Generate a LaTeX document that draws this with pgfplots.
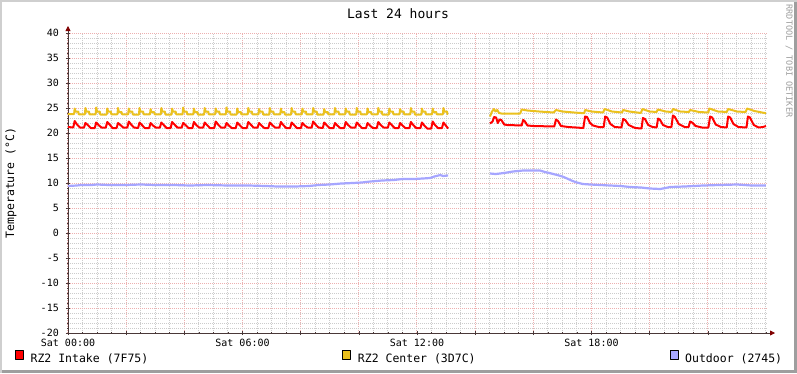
\documentclass[border=0pt]{standalone}
\usepackage{fontspec}
\setmainfont{DejaVu Sans Mono}
\usepackage{pgfplots}
\pgfplotsset{compat=1.18}
\usetikzlibrary{arrows.meta}
\definecolor{cred}{HTML}{FF0000}
\definecolor{cyellow}{HTML}{EBC11E}
\definecolor{cblue}{HTML}{A6A6FF}
\definecolor{mgrid}{HTML}{EDB0B0}
\definecolor{mingrid}{HTML}{CCCCCC}
\definecolor{axisc}{HTML}{4A3838}
\definecolor{arrowc}{HTML}{800000}
\definecolor{shadea}{HTML}{CFCFCF}
\definecolor{shadeb}{HTML}{9E9E9E}
\begin{document}
\begin{tikzpicture}
\fill[white] (-68pt,-40pt) rectangle (729pt,333pt);
\fill[shadea] (-68pt,-40pt) rectangle (-66pt,333pt);
\fill[shadea] (-68pt,331pt) rectangle (729pt,333pt);
\fill[shadeb] (726pt,-40pt) rectangle (729pt,331pt);
\fill[shadeb] (-66pt,-40pt) rectangle (729pt,-37pt);
\begin{axis}[
  scale only axis,
  width=700pt, height=300pt,
  xmin=0, xmax=24.07, ymin=-20, ymax=40,
  axis lines=left,
  axis line style={draw=axisc, line width=0.8pt},
  x axis line style={-{Triangle[length=5pt,width=5pt,color=arrowc]}, shorten >=-7pt},
  y axis line style={-{Triangle[length=5pt,width=5pt,color=arrowc]}, shorten >=-7pt},
  xtick={0,2,...,22},
  xticklabels={Sat 00:00,,,Sat 06:00,,,Sat 12:00,,,Sat 18:00,,},
  minor xtick={0.5,1,1.5,2.5,3,3.5,4.5,5,5.5,6.5,7,7.5,8.5,9,9.5,10.5,11,11.5,12.5,13,13.5,14.5,15,15.5,16.5,17,17.5,18.5,19,19.5,20.5,21,21.5,22.5,23,23.5,24},
  ytick={-20,-15,...,40},
  yticklabels={-20,-15,-10,-5,0,5,10,15,20,25,30,35,40},
  minor y tick num=4,
  grid=both,
  major grid style={draw=mgrid, line width=1pt, dash pattern=on 1pt off 1pt},
  minor grid style={draw=mingrid, line width=1pt, dash pattern=on 1pt off 1pt},
  major tick length=4pt, minor tick length=1.5pt, tick align=center,
  tick style={draw=axisc, line width=0.6pt},
  tick label style={font=\fontsize{10}{12}\selectfont},
  /pgf/number format/assume math mode=true,
  xticklabel style={inner sep=0pt, yshift=-4pt},
  yticklabel style={inner sep=0pt, xshift=-7pt},
  title={Last 24 hours},
  title style={at={(0.4714,1.0433)}, anchor=center, inner sep=0pt, font=\fontsize{13}{15}\selectfont},
  ylabel={Temperature (°C)},
  every axis y label/.style={at={(-0.0814,0.5)}, rotate=90, anchor=center, inner sep=0pt, font=\fontsize{11.5}{13}\selectfont},
  unbounded coords=jump,
  legend columns=3,
  legend style={at={(-0.0757,-0.08)}, anchor=west, draw=none, fill=none, inner sep=0pt, outer sep=0pt,
    font=\fontsize{11.5}{13}\selectfont, nodes={inner sep=0pt},
    /tikz/every odd column/.append style={column sep=7pt},
    /tikz/every even column/.append style={column sep=194pt}},
  legend image code/.code={\draw[#1, solid, draw=black, line width=0.6pt, fill] (0pt,0pt) rectangle (8pt,9pt);},
]
\addplot[cred, line width=2pt, line join=round] coordinates {
(0.00,21.2)
(0.18,21.1)(0.23,22.4)(0.31,21.7)(0.41,21.1)
(0.55,21.1)(0.60,22.0)(0.68,21.6)(0.78,21.0)
(0.92,21.0)(0.97,22.1)(1.05,21.6)(1.15,21.1)
(1.30,21.1)(1.35,22.2)(1.43,21.7)(1.53,21.0)
(1.67,21.0)(1.72,22.0)(1.80,21.6)(1.90,21.1)
(2.04,21.1)(2.09,22.3)(2.17,21.7)(2.27,21.1)
(2.41,21.0)(2.46,22.1)(2.54,21.6)(2.64,21.0)
(2.79,21.0)(2.84,22.0)(2.92,21.5)(3.02,21.1)
(3.16,21.1)(3.21,22.1)(3.29,21.6)(3.39,21.0)
(3.53,21.0)(3.58,22.2)(3.66,21.7)(3.76,21.1)
(3.91,21.1)(3.96,22.0)(4.04,21.6)(4.14,21.0)
(4.28,21.0)(4.33,22.2)(4.41,21.6)(4.51,21.1)
(4.65,21.1)(4.70,22.1)(4.78,21.6)(4.88,21.0)
(5.03,21.0)(5.08,22.3)(5.16,21.7)(5.26,21.1)
(5.40,21.1)(5.45,22.0)(5.53,21.5)(5.63,21.0)
(5.77,21.0)(5.82,22.1)(5.90,21.6)(6.00,21.0)
(6.15,21.0)(6.20,22.2)(6.28,21.7)(6.38,21.1)
(6.52,21.1)(6.57,22.0)(6.65,21.5)(6.75,21.0)
(6.89,21.0)(6.94,22.1)(7.02,21.6)(7.12,21.1)
(7.27,21.1)(7.32,22.2)(7.40,21.6)(7.50,21.0)
(7.64,21.0)(7.69,22.1)(7.77,21.6)(7.87,21.0)
(8.01,21.0)(8.06,22.0)(8.14,21.5)(8.24,21.1)
(8.38,21.1)(8.43,22.3)(8.51,21.7)(8.61,21.1)
(8.76,21.0)(8.81,22.1)(8.89,21.6)(8.99,21.0)
(9.13,21.0)(9.18,22.0)(9.26,21.5)(9.36,21.0)
(9.50,21.0)(9.55,22.2)(9.63,21.6)(9.73,21.1)
(9.88,21.1)(9.93,22.1)(10.01,21.6)(10.11,21.0)
(10.25,21.0)(10.30,22.0)(10.38,21.5)(10.48,21.0)
(10.62,21.0)(10.67,22.2)(10.75,21.6)(10.85,21.1)
(11.00,21.1)(11.05,22.1)(11.13,21.6)(11.23,21.0)
(11.37,21.0)(11.42,22.0)(11.50,21.5)(11.60,21.0)
(11.74,21.0)(11.79,22.2)(11.87,21.6)(11.97,21.0)
(12.12,21.0)(12.17,22.1)(12.25,21.5)(12.35,20.9)
(12.49,20.9)(12.54,22.3)(12.62,21.6)(12.72,21.0)
(12.86,21.0)(12.91,22.1)(12.99,21.5)(13.07,20.9)
(13.80,nan)
(14.51,21.9)(14.60,22.3)(14.65,23.2)(14.72,23.1)(14.78,22.0)(14.84,22.7)(14.90,22.6)(15.00,21.7)
(15.10,21.6)(15.60,21.5)(15.65,22.6)(15.70,22.4)(15.80,21.5)(16.00,21.4)(16.72,21.3)(16.78,22.7)
(16.85,22.4)(16.95,21.4)(17.20,21.2)(17.72,21.0)(17.78,23.3)(17.85,23.2)(17.95,22.0)(18.05,21.5)
(18.25,21.2)(18.42,21.2)(18.47,23.3)(18.54,23.1)(18.65,21.8)(18.80,21.2)(19.03,21.1)(19.09,22.8)
(19.16,22.6)(19.28,21.6)(19.50,21.0)(19.72,20.9)(19.77,23.0)(19.84,22.8)(19.95,21.6)(20.10,21.2)
(20.24,21.1)(20.29,22.9)(20.36,22.6)(20.46,21.6)(20.62,21.2)(20.75,21.2)(20.80,23.5)(20.87,23.2)
(21.00,21.8)(21.20,21.2)(21.34,21.2)(21.39,22.3)(21.46,22.1)(21.58,21.4)(21.80,21.1)
(22.02,21.1)(22.08,23.3)(22.15,23.1)(22.27,21.7)(22.45,21.2)(22.65,21.1)(22.70,23.3)(22.77,23.1)
(22.88,21.8)(23.05,21.2)(23.33,21.1)(23.38,23.3)(23.45,23.1)(23.58,21.6)(23.75,21.1)(23.90,21.2)
(24.00,21.4)
};
\addlegendentry{RZ2 Intake (7F75)}
\addplot[cyellow, line width=2pt, line join=round] coordinates {
(0.00,23.8)
(0.21,23.8)(0.23,24.9)(0.26,24.3)(0.35,24.3)(0.37,23.75)
(0.58,23.75)(0.60,25.0)(0.63,24.3)(0.72,24.3)(0.74,23.75)
(0.95,23.75)(0.97,25.1)(1.00,24.3)(1.09,24.3)(1.11,23.7)
(1.33,23.7)(1.35,24.9)(1.38,24.3)(1.47,24.3)(1.49,23.75)
(1.70,23.75)(1.72,25.0)(1.75,24.2)(1.84,24.2)(1.86,23.75)
(2.07,23.75)(2.09,24.9)(2.12,24.3)(2.21,24.3)(2.23,23.7)
(2.44,23.7)(2.46,25.0)(2.49,24.3)(2.58,24.3)(2.60,23.75)
(2.82,23.75)(2.84,24.8)(2.87,24.2)(2.96,24.2)(2.98,23.75)
(3.19,23.75)(3.21,25.0)(3.24,24.3)(3.33,24.3)(3.35,23.7)
(3.56,23.7)(3.58,24.9)(3.61,24.3)(3.70,24.3)(3.72,23.75)
(3.94,23.75)(3.96,25.1)(3.99,24.3)(4.08,24.3)(4.10,23.75)
(4.31,23.75)(4.33,24.9)(4.36,24.2)(4.45,24.2)(4.47,23.7)
(4.68,23.7)(4.70,25.0)(4.73,24.3)(4.82,24.3)(4.84,23.75)
(5.06,23.75)(5.08,24.9)(5.11,24.3)(5.20,24.3)(5.22,23.75)
(5.43,23.75)(5.45,25.1)(5.48,24.3)(5.57,24.3)(5.59,23.7)
(5.80,23.7)(5.82,24.9)(5.85,24.2)(5.94,24.2)(5.96,23.75)
(6.18,23.75)(6.20,25.0)(6.23,24.3)(6.32,24.3)(6.34,23.75)
(6.55,23.75)(6.57,24.8)(6.60,24.3)(6.69,24.3)(6.71,23.7)
(6.92,23.7)(6.94,25.0)(6.97,24.3)(7.06,24.3)(7.08,23.75)
(7.30,23.75)(7.32,24.9)(7.35,24.2)(7.44,24.2)(7.46,23.7)
(7.67,23.7)(7.69,25.0)(7.72,24.3)(7.81,24.3)(7.83,23.75)
(8.04,23.75)(8.06,24.9)(8.09,24.3)(8.18,24.3)(8.20,23.75)
(8.41,23.75)(8.43,25.0)(8.46,24.3)(8.55,24.3)(8.57,23.7)
(8.79,23.7)(8.81,24.8)(8.84,24.2)(8.93,24.2)(8.95,23.75)
(9.16,23.75)(9.18,25.0)(9.21,24.3)(9.30,24.3)(9.32,23.75)
(9.53,23.75)(9.55,24.9)(9.58,24.3)(9.67,24.3)(9.69,23.7)
(9.91,23.7)(9.93,25.0)(9.96,24.3)(10.05,24.3)(10.07,23.75)
(10.28,23.75)(10.30,24.9)(10.33,24.2)(10.42,24.2)(10.44,23.75)
(10.65,23.75)(10.67,25.0)(10.70,24.3)(10.79,24.3)(10.81,23.7)
(11.03,23.7)(11.05,24.9)(11.08,24.3)(11.17,24.3)(11.19,23.75)
(11.40,23.75)(11.42,24.8)(11.45,24.3)(11.54,24.3)(11.56,23.75)
(11.77,23.75)(11.79,25.0)(11.82,24.3)(11.91,24.3)(11.93,23.7)
(12.15,23.7)(12.17,24.9)(12.20,24.3)(12.29,24.3)(12.31,23.75)
(12.52,23.75)(12.54,24.9)(12.57,24.2)(12.66,24.2)(12.68,23.75)
(12.89,23.75)(12.91,25.0)(12.94,24.3)(13.03,24.3)(13.05,23.8)(13.07,23.8)
(13.80,nan)
(14.51,23.3)(14.58,24.3)(14.65,24.8)(14.70,24.3)(14.76,24.6)(14.82,24.0)(14.90,23.9)(15.55,23.9)
(15.60,24.7)(15.80,24.5)(16.20,24.3)(16.70,24.1)(16.78,24.6)(17.00,24.3)(17.40,24.1)(17.75,23.95)
(17.78,24.6)(18.00,24.3)(18.40,24.1)(18.45,24.8)(18.70,24.3)(19.05,24.1)(19.09,24.6)(19.30,24.3)
(19.70,24.0)(19.75,24.8)(20.00,24.3)(20.24,24.2)(20.28,24.7)(20.55,24.3)(20.76,24.2)(20.80,24.8)
(21.05,24.3)(21.35,24.2)(21.39,24.6)(21.70,24.2)(22.02,24.1)(22.05,24.9)(22.35,24.3)(22.65,24.2)
(22.70,24.8)(23.00,24.3)(23.30,24.2)(23.35,24.9)(23.60,24.4)(24.00,23.95)
};
\addlegendentry{RZ2 Center (3D7C)}
\addplot[cblue, line width=2.2pt, line join=round] coordinates {
(0.00,9.4)(0.30,9.5)(0.45,9.6)(0.80,9.6)(1.00,9.7)(1.40,9.6)(2.00,9.6)(2.50,9.7)(3.00,9.6)
(3.60,9.6)(4.20,9.5)(4.80,9.6)(5.50,9.5)(6.20,9.5)(6.80,9.4)(7.20,9.3)(7.80,9.3)(8.30,9.4)
(8.60,9.6)(9.00,9.7)(9.40,9.9)(9.80,10.0)(10.10,10.1)(10.40,10.3)(10.80,10.5)(11.20,10.6)
(11.50,10.8)(11.90,10.8)(12.20,10.9)(12.45,11.0)(12.60,11.3)(12.80,11.6)(12.90,11.4)(13.07,11.5)
(13.80,nan)
(14.51,11.9)(14.70,11.8)(14.86,11.9)(15.10,12.1)(15.30,12.3)(15.65,12.5)(15.90,12.5)(16.23,12.5)
(16.40,12.2)(16.55,12.0)(16.82,11.6)(17.00,11.3)(17.16,10.9)(17.35,10.4)(17.50,10.1)(17.70,9.8)
(17.95,9.7)(18.30,9.6)(18.64,9.5)(19.00,9.4)(19.33,9.2)(19.70,9.1)(20.01,8.9)(20.36,8.8)
(20.55,9.0)(20.70,9.2)(21.20,9.3)(21.84,9.5)(22.40,9.6)(23.01,9.7)(23.50,9.5)(24.00,9.5)
};
\addlegendentry{Outdoor (2745)}
\end{axis}
\node[rotate=-90, text=shadeb, font=\fontsize{8.5}{10}\selectfont, inner sep=0pt] at (721pt,272pt) {RRDTOOL / TOBI OETIKER};
\end{tikzpicture}
\end{document}
